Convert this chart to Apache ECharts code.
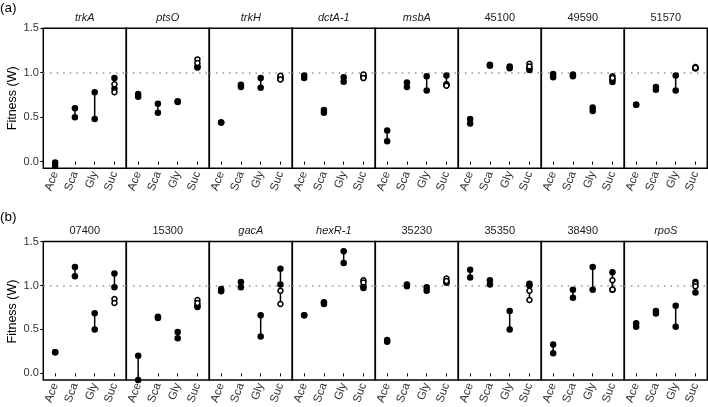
<!DOCTYPE html>
<html>
<head>
<meta charset="utf-8">
<script src="https://cdn.jsdelivr.net/npm/echarts@6/dist/echarts.min.js"></script>
<style>
html,body{margin:0;padding:0;background:#fff;}
#chart{width:708px;height:407px;}
</style>
</head>
<body>
<div id="chart"></div>
<script>
// ---------------- DATA ----------------
const categories = ['Ace', 'Sca', 'Gly', 'Suc'];
const yTicks = [0, 0.5, 1.0, 1.5];
const panelsA = ['trkA', 'ptsO', 'trkH', 'dctA-1', 'msbA', '45100', '49590', '51570'];
const panelsB = ['07400', '15300', 'gacA', 'hexR-1', '35230', '35350', '38490', 'rpoS'];
const italicPanels = ['trkA', 'ptsO', 'trkH', 'dctA-1', 'msbA', 'gacA', 'hexR-1', 'rpoS'];

// filled points: per category [Ace, Sca, Gly, Suc], two replicates each
// open points: second pair on Suc
const trkA_filled  = [[-0.01, -0.05], [0.60, 0.50], [0.78, 0.48], [0.94, 0.82]];
const trkA_open    = [0.87, 0.78];
const ptsO_filled  = [[0.76, 0.73], [0.65, 0.55], [0.68, 0.67], [1.07, 1.06]];
const ptsO_open    = [1.15, 1.11];
const trkH_filled  = [[0.44, 0.44], [0.865, 0.84], [0.94, 0.83], [0.95, 0.93]];
const trkH_open    = [0.965, 0.925];
const dctA1_filled = [[0.97, 0.94], [0.58, 0.55], [0.95, 0.90], [0.96, 0.95]];
const dctA1_open   = [0.98, 0.94];
const msbA_filled  = [[0.35, 0.23], [0.89, 0.84], [0.96, 0.80], [0.97, 0.87]];
const msbA_open    = [0.86, 0.855];
const g45100_filled = [[0.48, 0.43], [1.09, 1.08], [1.07, 1.05], [1.05, 1.03]];
const g45100_open   = [1.10, 1.07];
const g49590_filled = [[0.985, 0.95], [0.98, 0.96], [0.61, 0.57], [0.92, 0.895]];
const g49590_open   = [0.96, 0.94];
const g51570_filled = [[0.64, 0.64], [0.84, 0.81], [0.97, 0.80], [1.05, 1.05]];
const g51570_open   = [1.065, 1.055];

const g07400_filled = [[0.24, 0.24], [1.21, 1.105], [0.685, 0.50], [1.135, 0.98]];
const g07400_open   = [0.845, 0.80];
const g15300_filled = [[0.20, -0.075], [0.645, 0.63], [0.47, 0.40], [0.77, 0.755]];
const g15300_open   = [0.835, 0.80];
const gacA_filled   = [[0.96, 0.935], [1.04, 0.98], [0.66, 0.42], [1.19, 1.01]];
const gacA_open     = [0.94, 0.79];
const hexR1_filled  = [[0.66, 0.66], [0.81, 0.79], [1.39, 1.255], [0.99, 0.97]];
const hexR1_open    = [1.06, 1.035];
const g35230_filled = [[0.38, 0.36], [1.01, 0.99], [0.98, 0.94], [1.04, 1.03]];
const g35230_open   = [1.08, 1.05];
const g35350_filled = [[1.18, 1.09], [1.06, 1.01], [0.71, 0.50], [1.02, 1.00]];
const g35350_open   = [0.94, 0.835];
const g38490_filled = [[0.33, 0.23], [0.95, 0.86], [1.21, 0.95], [1.15, 0.95]];
const g38490_open   = [1.06, 0.955];
const rpoS_filled   = [[0.57, 0.53], [0.71, 0.68], [0.77, 0.53], [1.04, 0.92]];
const rpoS_open     = [1.02, 0.99];

const filledA = [trkA_filled, ptsO_filled, trkH_filled, dctA1_filled, msbA_filled, g45100_filled, g49590_filled, g51570_filled];
const openA   = [trkA_open, ptsO_open, trkH_open, dctA1_open, msbA_open, g45100_open, g49590_open, g51570_open];
const filledB = [g07400_filled, g15300_filled, gacA_filled, hexR1_filled, g35230_filled, g35350_filled, g38490_filled, rpoS_filled];
const openB   = [g07400_open, g15300_open, gacA_open, hexR1_open, g35230_open, g35350_open, g38490_open, rpoS_open];

// ---------------- LAYOUT ----------------
const FONT = "'Liberation Sans', Arial, Helvetica, sans-serif";
const panelLeft0 = 43.3, panelW = 83, panelH = 140;
const rows = [
  { names: panelsA, filled: filledA, open: openA, top: 28.3, tag: '(a)', tagY: 1, titleY: 18.3 },
  { names: panelsB, filled: filledB, open: openB, top: 241.5, tag: '(b)', tagY: 210, titleY: 231 }
];

const grids = [], xAxes = [], yAxes = [], series = [], graphics = [];

rows.forEach((row, r) => {
  row.names.forEach((name, i) => {
    const g = r * 8 + i;
    const left = panelLeft0 + panelW * i;
    grids.push({ left: left, top: row.top, width: panelW, height: panelH,
      show: true, borderColor: '#000', borderWidth: 1.5, backgroundColor: 'transparent' });
    xAxes.push({ type: 'value', gridIndex: g, min: 0.4, max: 4.6,
      axisLine: { show: false }, splitLine: { show: false },
      axisTick: { show: true, length: 3, customValues: [1, 2, 3, 4], lineStyle: { color: '#000', width: 1 } },
      axisLabel: { show: true, customValues: [1, 2, 3, 4], rotate: 70, margin: 3.5,
        formatter: v => categories[Math.round(v) - 1], color: '#333', fontSize: 11.5, fontFamily: FONT } });
    yAxes.push({ type: 'value', gridIndex: g, min: -0.075, max: 1.5,
      axisLine: { show: false }, splitLine: { show: false },
      axisTick: { show: i === 0, length: 3, customValues: yTicks, lineStyle: { color: '#000', width: 1 } },
      axisLabel: { show: i === 0, customValues: yTicks, margin: 4.5,
        formatter: v => v.toFixed(1), color: '#333', fontSize: 11, fontFamily: FONT } });

    const filled = row.filled[i];
    const open = row.open[i];
    const segs = filled.map((pair, c) => [c + 1, Math.min(...pair), Math.max(...pair)]);
    segs.push([4, Math.min(...open), Math.max(...open)]);
    const filledPts = [];
    filled.forEach((pair, c) => pair.forEach(v => filledPts.push([c + 1, v])));
    const openPts = open.map(v => [4, v]);

    series.push({
      type: 'custom', xAxisIndex: g, yAxisIndex: g, data: segs, silent: true, z: 2,
      encode: { x: 0, y: [1, 2] },
      renderItem: (params, api) => {
        const p1 = api.coord([api.value(0), api.value(1)]);
        const p2 = api.coord([api.value(0), api.value(2)]);
        return { type: 'line', shape: { x1: p1[0], y1: p1[1], x2: p2[0], y2: p2[1] },
          style: { stroke: '#000', lineWidth: 1.5 } };
      },
      markLine: { silent: true, symbol: ['none', 'none'], label: { show: false }, z: 1,
        lineStyle: { color: '#999', type: [1.6, 5], width: 1.5 },
        data: [{ yAxis: 1 }] }
    });
    series.push({ type: 'scatter', xAxisIndex: g, yAxisIndex: g, data: filledPts, clip: false,
      symbol: 'circle', symbolSize: 6.5, itemStyle: { color: '#000', opacity: 1 }, z: 3, silent: true });
    series.push({ type: 'scatter', xAxisIndex: g, yAxisIndex: g, data: openPts, clip: false,
      symbol: 'circle', symbolSize: 5, itemStyle: { color: '#fff', borderColor: '#000', borderWidth: 1.5, opacity: 1 }, z: 4, silent: true });

    graphics.push({ type: 'text', x: left + panelW / 2, y: row.titleY,
      style: { text: name, fill: '#1a1a1a', font: (italicPanels.includes(name) ? 'italic ' : '') + '11px ' + FONT,
        textAlign: 'center', textVerticalAlign: 'middle' } });
  });
  graphics.push({ type: 'text', x: 0, y: row.tagY,
    style: { text: row.tag, fill: '#000', font: '13.5px ' + FONT, textAlign: 'left', textVerticalAlign: 'top' } });
  graphics.push({ type: 'text', x: 13, y: row.top + panelH / 2, rotation: Math.PI / 2,
    style: { text: 'Fitness (W)', fill: '#000', font: '12.5px ' + FONT, textAlign: 'center', textVerticalAlign: 'middle' } });
});

const chart = echarts.init(document.getElementById('chart'), null, { renderer: 'canvas' });
chart.setOption({
  animation: false,
  backgroundColor: '#fff',
  grid: grids, xAxis: xAxes, yAxis: yAxes, series: series, graphic: graphics
});
</script>
</body>
</html>
